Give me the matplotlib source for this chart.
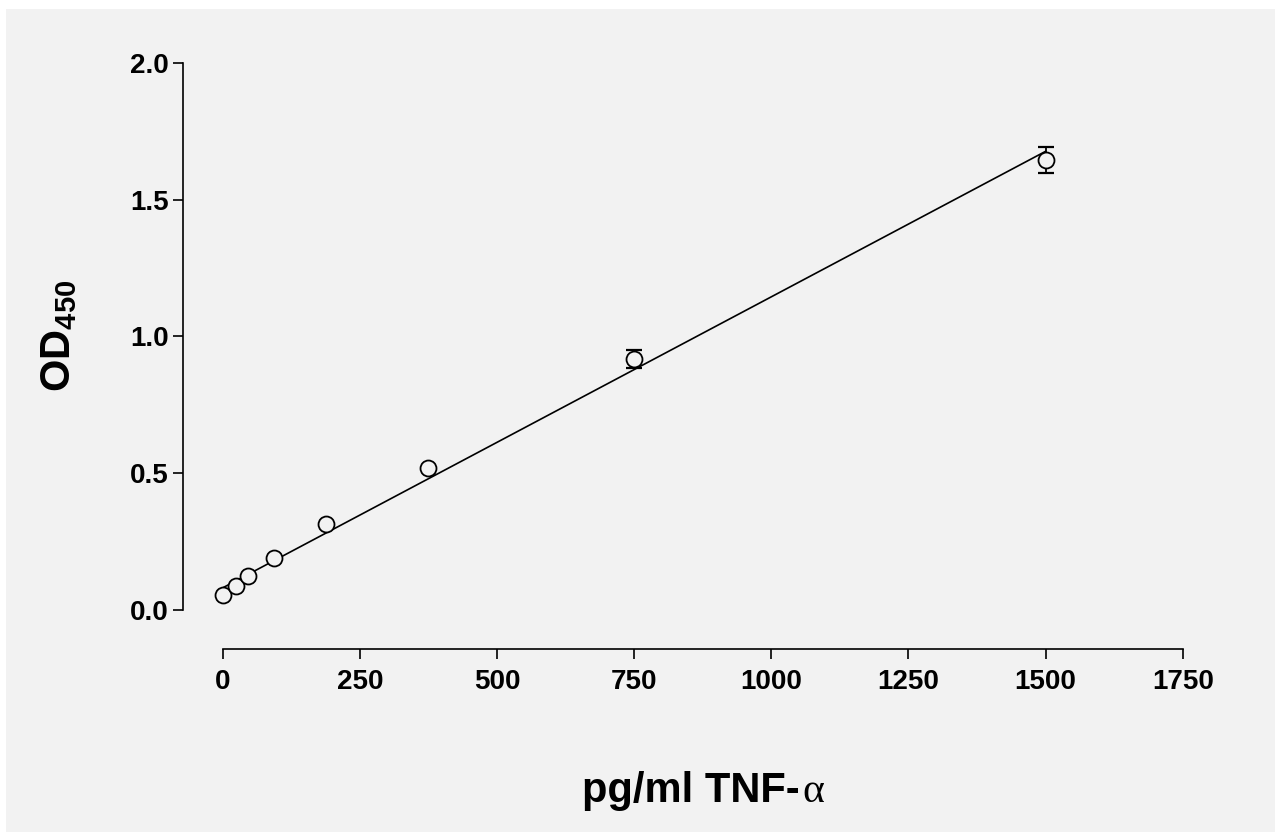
import numpy as np
import matplotlib
matplotlib.use("Agg")
import matplotlib.pyplot as plt
from matplotlib.patches import Rectangle

# Data
conc = [0, 23.4, 46.9, 93.75, 187.5, 375, 750, 1500]
od = [0.055, 0.088, 0.124, 0.190, 0.314, 0.519, 0.918, 1.645]
od_err = [0.0, 0.0, 0.0, 0.0, 0.0, 0.0, 0.033, 0.047]
fit_intercept = 0.081
fit_slope = 0.001064
x_ticks = [0, 250, 500, 750, 1000, 1250, 1500, 1750]
y_ticks = [0.0, 0.5, 1.0, 1.5, 2.0]
y_ticklabels = ["0.0", "0.5", "1.0", "1.5", "2.0"]

BG = "#f2f2f2"
plt.rcParams["font.family"] = ["Liberation Sans", "DejaVu Sans"]
plt.rcParams["mathtext.fontset"] = "custom"
plt.rcParams["mathtext.rm"] = "Liberation Sans:bold"
plt.rcParams["mathtext.default"] = "rm"

W, H = 1275, 832
fig = plt.figure(figsize=(W / 100, H / 100), dpi=100, facecolor="white")
fig.patches.append(Rectangle((6 / W, 0), 1 - 6 / W, (H - 9) / H, transform=fig.transFigure,
                             facecolor=BG, edgecolor="none", zorder=-10))

x0, x1 = 222.7, 1182.7
y0, y1 = 610.0, 63.0
ax = fig.add_axes([x0 / W, (H - y0) / H, (x1 - x0) / W, (y0 - y1) / H])
ax.set_facecolor("none")
ax.set_xlim(0, 1750)
ax.set_ylim(0, 2.0)

for s in ["top", "right"]:
    ax.spines[s].set_visible(False)
ax.spines["left"].set_position(("outward", (x0 - 183) * 0.72))
ax.spines["bottom"].set_position(("outward", (649 - y0) * 0.72))
for s in ["left", "bottom"]:
    ax.spines[s].set_linewidth(1.2)
    ax.spines[s].set_color("black")

ax.set_xticks(x_ticks)
ax.set_xticklabels([str(t) for t in x_ticks])
ax.set_yticks(y_ticks)
ax.set_yticklabels(y_ticklabels)
ax.tick_params(axis="both", direction="out", length=7.2, width=1.2, labelsize=20, color="black")
ax.tick_params(axis="x", pad=7)
ax.tick_params(axis="y", pad=3)
for lab in ax.get_xticklabels() + ax.get_yticklabels():
    lab.set_fontweight("bold")

conc_a = np.array(conc)
od_a = np.array(od)
err_a = np.array(od_err)

# fit line
xf = np.array([conc_a.min(), conc_a.max()])
ax.plot(xf, fit_intercept + fit_slope * xf, color="black", lw=1.2, zorder=2, clip_on=False)

# error bars
m = err_a > 0
ax.errorbar(conc_a[m], od_a[m], yerr=err_a[m], fmt="none", ecolor="black",
            elinewidth=1.3, capsize=6, capthick=1.6, zorder=3, clip_on=False)

# markers
ax.plot(conc_a, od_a, "o", ms=11.5, mfc=BG, mec="black", mew=1.3, zorder=4, clip_on=False, ls="none")

# labels
fig.text(59 / W, 1 - 336 / H, r"OD$_{450}$", rotation=90, ha="center", va="center",
         fontsize=30, fontweight="bold")
t = fig.text(582 / W, 1 - 802 / H, "pg/ml TNF-", ha="left", va="baseline",
             fontsize=30, fontweight="bold")
ax.annotate("α", xy=(1, 0), xycoords=t, xytext=(2, 0), textcoords="offset points",
            ha="left", va="bottom", fontsize=30, family=["Liberation Serif", "DejaVu Serif"],
            annotation_clip=False)

fig.savefig("out.png", dpi=100, facecolor="white")
